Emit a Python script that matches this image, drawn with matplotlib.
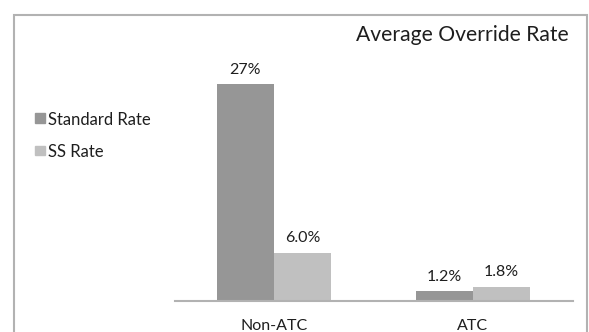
import numpy as np
import matplotlib.pyplot as plt
from matplotlib.patches import Rectangle

plt.rcParams["font.family"] = ["Lato", "DejaVu Sans"]

categories = ["Non-ATC", "ATC"]
standard_rate = [27.0, 1.2]
ss_rate = [6.0, 1.8]
standard_labels = ["27%", "1.2%"]
ss_labels = ["6.0%", "1.8%"]

dark = "#969696"
light = "#c0c0c0"
text_color = "#1e1e1e"
frame_color = "#b2b2b2"

W, H = 589, 332
fig = plt.figure(figsize=(W / 100, H / 100), dpi=100)

# chart frame, open at the bottom
fig.patches.append(Rectangle((13.5 / W, -0.05), 573 / W, 1.05 - 14.5 / H,
                             transform=fig.transFigure, fill=False,
                             edgecolor=frame_color, linewidth=1.5))

ax = fig.add_axes([174.5 / W, 31 / H, 398 / W, 241 / H])
x = np.arange(len(categories))
w = 0.287
b1 = ax.bar(x - w / 2, standard_rate, w, color=dark)
b2 = ax.bar(x + w / 2, ss_rate, w, color=light)

for bars, labels in [(b1, standard_labels), (b2, ss_labels)]:
    for bar, lab in zip(bars, labels):
        ax.annotate(lab, (bar.get_x() + bar.get_width() / 2, bar.get_height()),
                    xytext=(0, 7.5), textcoords="offset points",
                    ha="center", va="baseline", fontsize=11.5, color=text_color)

ax.set_xlim(-0.5, 1.5)
ax.set_ylim(0, 30)
ax.set_xticks(x)
ax.set_xticklabels(categories, fontsize=11.5, color=text_color)
ax.tick_params(axis="x", length=0, pad=13)
ax.set_yticks([])
for side in ["top", "right", "left"]:
    ax.spines[side].set_visible(False)
ax.spines["bottom"].set_color(frame_color)
ax.spines["bottom"].set_linewidth(1.5)

fig.text(569 / W, 1 - 41 / H, "Average Override Rate", ha="right",
         va="baseline", fontsize=15.2, color=text_color)

# legend drawn as squares with text
for i, (name, col) in enumerate([("Standard Rate", dark), ("SS Rate", light)]):
    base = 125 + 32 * i
    fig.patches.append(Rectangle((35 / W, 1 - (base - 2) / H), 9.5 / W, 9.5 / H,
                                 transform=fig.transFigure, color=col))
    fig.text(48 / W, 1 - base / H, name, ha="left", va="baseline",
             fontsize=12, color=text_color)

fig.savefig("out.png", dpi=100)
